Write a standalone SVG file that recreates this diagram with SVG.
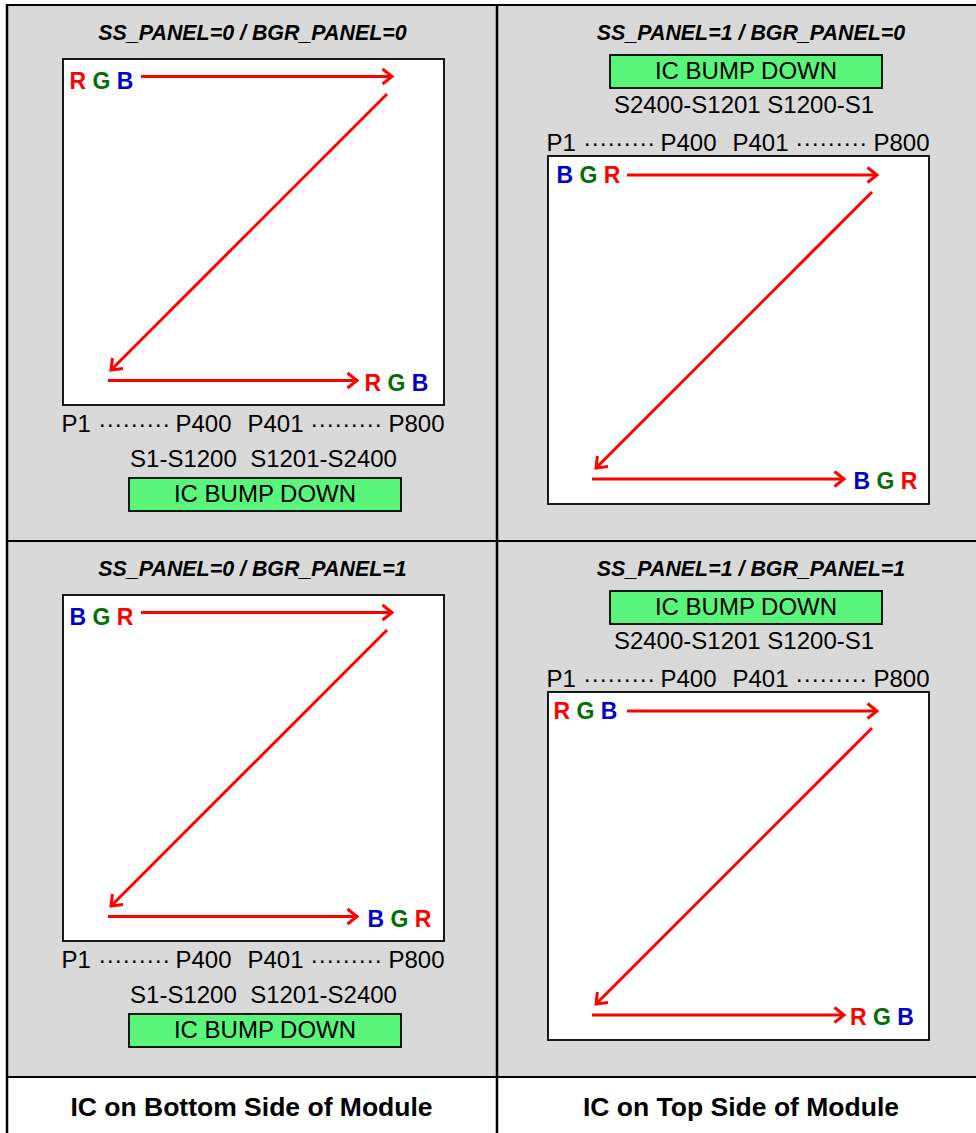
<svg xmlns="http://www.w3.org/2000/svg" width="976" height="1133" viewBox="0 0 976 1133">
<style>
.hdr{font-family:"Liberation Sans",Arial,sans-serif;font-size:21.4px;font-weight:bold;font-style:italic;fill:#000;text-anchor:middle}
.lbl{font-family:"Liberation Sans",Arial,sans-serif;font-size:24px;fill:#000}
.mid{text-anchor:middle}
.rgb{font-family:"Liberation Sans",Arial,sans-serif;font-size:23px;font-weight:bold}
.r{fill:#FF0000}.g{fill:#006E00}.b{fill:#0000C8}
.scr{fill:#FFFFFF;stroke:#000;stroke-width:1.8}
.bump{fill:#5AF57B;stroke:#000;stroke-width:1.8}
.arr{stroke:#FF0000;stroke-width:3;fill:none;marker-end:url(#ah)}
.foot{font-family:"Liberation Sans",Arial,sans-serif;font-size:26.5px;font-weight:bold;fill:#000;text-anchor:middle}
.grid{stroke:#000;fill:none}
</style>
<defs>
<marker id="ah" markerUnits="userSpaceOnUse" viewBox="-13 -10 16 20" markerWidth="16" markerHeight="20" refX="0" refY="0" orient="auto">
<path d="M-9.5,-7.5 L0,0 L-9.5,7.5" fill="none" stroke="#FF0000" stroke-width="3" stroke-linejoin="miter"/>
</marker>
</defs>
<g id="background">
<rect x="6" y="5" width="972" height="1072" fill="#D9D9D9"/>
<rect x="6" y="1077" width="972" height="60" fill="#FFFFFF"/>
<line class="grid" x1="6" y1="5" x2="976" y2="5" stroke-width="2"/>
<line class="grid" x1="7" y1="4" x2="7" y2="1133" stroke-width="2.5"/>
<line class="grid" x1="497" y1="4" x2="497" y2="1133" stroke-width="2.5"/>
<line class="grid" x1="6" y1="541" x2="976" y2="541" stroke-width="2"/>
<line class="grid" x1="6" y1="1077" x2="976" y2="1077" stroke-width="2"/>
</g>

<g id="panel-ss0-bgr0">
<text class="hdr" x="252.5" y="40">SS_PANEL=0 / BGR_PANEL=0</text>
<rect class="scr" x="63" y="59" width="381" height="346"/>
<text class="rgb" x="69.5" y="88.5"><tspan class="r">R</tspan> <tspan class="g">G</tspan> <tspan class="b">B</tspan></text>
<text class="rgb" x="364.5" y="391"><tspan class="r">R</tspan> <tspan class="g">G</tspan> <tspan class="b">B</tspan></text>
<text class="lbl" y="432"><tspan x="61.5">P1</tspan><tspan x="98.3">·········</tspan><tspan x="175.5">P400</tspan><tspan x="247.5">P401</tspan><tspan x="310.3">·········</tspan><tspan x="388.5">P800</tspan></text>
<text class="lbl mid" x="263.5" y="467">S1-S1200&#160; S1201-S2400</text>
<rect class="bump" x="129" y="478" width="272" height="33"/>
<text class="lbl mid" x="265" y="502">IC BUMP DOWN</text>
</g>

<g id="panel-ss1-bgr0">
<text class="hdr" x="751" y="40">SS_PANEL=1 / BGR_PANEL=0</text>
<rect class="bump" x="610" y="55" width="272" height="33"/>
<text class="lbl mid" x="746" y="79">IC BUMP DOWN</text>
<text class="lbl mid" x="744" y="113">S2400-S1201 S1200-S1</text>
<text class="lbl" y="151"><tspan x="546.5">P1</tspan><tspan x="583.3">·········</tspan><tspan x="660.5">P400</tspan><tspan x="732.5">P401</tspan><tspan x="795.3">·········</tspan><tspan x="873.5">P800</tspan></text>
<rect class="scr" x="548" y="156" width="381" height="348"/>
<text class="rgb" x="556.5" y="182.5"><tspan class="b">B</tspan> <tspan class="g">G</tspan> <tspan class="r">R</tspan></text>
<text class="rgb" x="853.5" y="488.5"><tspan class="b">B</tspan> <tspan class="g">G</tspan> <tspan class="r">R</tspan></text>
</g>

<g id="panel-ss0-bgr1">
<text class="hdr" x="252.5" y="576">SS_PANEL=0 / BGR_PANEL=1</text>
<rect class="scr" x="63" y="595" width="381" height="346"/>
<text class="rgb" x="69.5" y="624.5"><tspan class="b">B</tspan> <tspan class="g">G</tspan> <tspan class="r">R</tspan></text>
<text class="rgb" x="367.5" y="927"><tspan class="b">B</tspan> <tspan class="g">G</tspan> <tspan class="r">R</tspan></text>
<text class="lbl" y="968"><tspan x="61.5">P1</tspan><tspan x="98.3">·········</tspan><tspan x="175.5">P400</tspan><tspan x="247.5">P401</tspan><tspan x="310.3">·········</tspan><tspan x="388.5">P800</tspan></text>
<text class="lbl mid" x="263.5" y="1003">S1-S1200&#160; S1201-S2400</text>
<rect class="bump" x="129" y="1014" width="272" height="33"/>
<text class="lbl mid" x="265" y="1038">IC BUMP DOWN</text>
</g>

<g id="panel-ss1-bgr1">
<text class="hdr" x="751" y="576">SS_PANEL=1 / BGR_PANEL=1</text>
<rect class="bump" x="610" y="591" width="272" height="33"/>
<text class="lbl mid" x="746" y="615">IC BUMP DOWN</text>
<text class="lbl mid" x="744" y="649">S2400-S1201 S1200-S1</text>
<text class="lbl" y="687"><tspan x="546.5">P1</tspan><tspan x="583.3">·········</tspan><tspan x="660.5">P400</tspan><tspan x="732.5">P401</tspan><tspan x="795.3">·········</tspan><tspan x="873.5">P800</tspan></text>
<rect class="scr" x="548" y="692" width="381" height="348"/>
<text class="rgb" x="553.5" y="718.5"><tspan class="r">R</tspan> <tspan class="g">G</tspan> <tspan class="b">B</tspan></text>
<text class="rgb" x="850" y="1024.5"><tspan class="r">R</tspan> <tspan class="g">G</tspan> <tspan class="b">B</tspan></text>
</g>

<g id="footer-bottom">
<text class="foot" x="251.5" y="1116">IC on Bottom Side of Module</text>
</g>
<g id="footer-top">
<text class="foot" x="741" y="1116">IC on Top Side of Module</text>
</g>

<g id="connectors">
<line class="arr" x1="141" y1="76.5" x2="392" y2="76.5"/>
<line class="arr" x1="387" y1="94" x2="111" y2="370"/>
<line class="arr" x1="108" y1="380.5" x2="357" y2="380.5"/>

<line class="arr" x1="627" y1="175" x2="877" y2="175"/>
<line class="arr" x1="872" y1="192" x2="596" y2="468"/>
<line class="arr" x1="592" y1="479" x2="844" y2="479"/>

<line class="arr" x1="141" y1="612.5" x2="392" y2="612.5"/>
<line class="arr" x1="387" y1="630" x2="111" y2="906"/>
<line class="arr" x1="108" y1="916.5" x2="357" y2="916.5"/>

<line class="arr" x1="627" y1="711" x2="877" y2="711"/>
<line class="arr" x1="872" y1="728" x2="596" y2="1004"/>
<line class="arr" x1="592" y1="1015" x2="844" y2="1015"/>
</g>
</svg>
